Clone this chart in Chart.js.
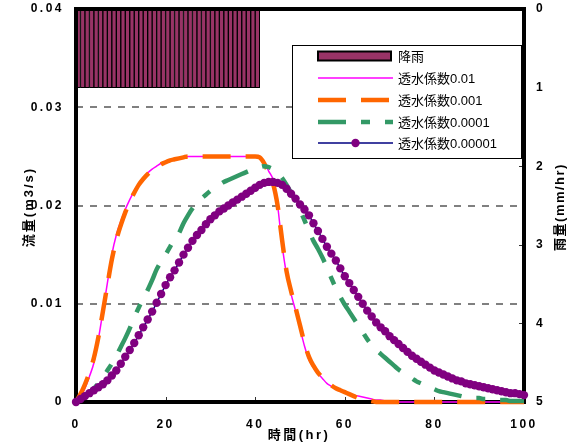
<!DOCTYPE html>
<html><head><meta charset="utf-8">
<script src="https://cdn.jsdelivr.net/npm/chart.js@4"></script>
<style>html,body{margin:0;padding:0;background:#fff}#wrap{width:575px;height:444px;position:relative}</style>
</head><body><div id="wrap"><canvas id="c"></canvas></div>
<script>
const hours = [0,1,2,3,4,5,6,7,8,9,10,11,12,13,14,15,16,17,18,19,20,21,22,23,24,25,26,27,28,29,30,31,32,33,34,35,36,37,38,39,40,41,42,43,44,45,46,47,48,49,50,51,52,53,54,55,56,57,58,59,60,61,62,63,64,65,66,67,68,69,70,71,72,73,74,75,76,77,78,79,80,81,82,83,84,85,86,87,88,89,90,91,92,93,94,95,96,97,98,99,100];
const rainHours = [0.5,1.5,2.5,3.5,4.5,5.5,6.5,7.5,8.5,9.5,10.5,11.5,12.5,13.5,14.5,15.5,16.5,17.5,18.5,19.5,20.5,21.5,22.5,23.5,24.5,25.5,26.5,27.5,28.5,29.5,30.5,31.5,32.5,33.5,34.5,35.5,36.5,37.5,38.5,39.5,40.5];
const rainfall = [1,1,1,1,1,1,1,1,1,1,1,1,1,1,1,1,1,1,1,1,1,1,1,1,1,1,1,1,1,1,1,1,1,1,1,1,1,1,1,1,1];
const flow_k001 = [0,0.0005,0.0014,0.0026,0.0040,0.0064,0.0092,0.0121,0.0150,0.0170,0.0184,
 0.0196,0.0206,0.0215,0.0222,0.0228,0.0233,0.0237,0.0240,0.0243,0.0245,
 0.0246,0.0247,0.0248,0.0249,0.0250,0.0250,0.0250,0.0250,0.0250,0.0250,
 0.0250,0.0250,0.0250,0.0250,0.0250,0.0250,0.0250,0.0250,0.0250,0.0250,
 0.0249,0.0244,0.0235,0.0226,0.0200,0.0160,0.0130,0.0110,0.0093,0.0075,
 0.0057,0.0043,0.0035,0.0029,0.0024,0.0019,0.0016,0.0013,0.0011,0.0009,
 0.0008,0.0007,0.0006,0.0005,0.0004,0.0003,0.0002,0.0002,0.0001,0.0001,
 0,0,0,0,0,0,0,0,0,0,0,0,0,0,0,0,0,0,0,0,0,0,0,0,0,0,0,0,0,0];
const flow_k0001 = [0,0.0008,0.0018,0.0030,0.0045,0.0066,0.0092,0.0119,0.0145,0.0165,0.0180,
 0.0193,0.0204,0.0213,0.0221,0.0227,0.0232,0.0236,0.0239,0.0242,0.0244,
 0.0246,0.0247,0.0248,0.0249,0.0250,0.0250,0.0250,0.0250,0.0250,0.0250,
 0.0250,0.0250,0.0250,0.0250,0.0250,0.0250,0.0250,0.0250,0.0250,0.0250,
 0.0249,0.0243,0.0233,0.0222,0.0200,0.0165,0.0133,0.0113,0.0096,0.0078,
 0.0060,0.0046,0.0037,0.0030,0.0025,0.0021,0.0017,0.0014,0.0012,0.0010,
 0.0008,0.0006,0.0004,0.0003,0.0002,0.0001,0,0,0,0,
 0,0,0,0,0,0,0,0,0,0,0,0,0,0,0,0,0,0,0,0,0,0,0,0,0,0,0,0,0,0];
const flow_k00001 = [0,0.0003,0.0006,0.0010,0.0014,0.0019,0.0025,0.0032,0.0039,0.0047,0.0056,
 0.0065,0.0075,0.0086,0.0096,0.0105,0.0114,0.0124,0.0135,0.0143,0.0150,
 0.0158,0.0166,0.0172,0.0182,0.0190,0.0197,0.0202,0.0207,0.0211,0.0215,
 0.0218,0.0221,0.0224,0.0226,0.0228,0.0230,0.0232,0.0234,0.0236,0.0238,
 0.0239,0.0240,0.0239,0.0237,0.0234,0.0228,0.0221,0.0213,0.0205,0.0195,
 0.0185,0.0174,0.0164,0.0156,0.0147,0.0137,0.0126,0.0116,0.0107,0.0099,
 0.0092,0.0085,0.0078,0.0071,0.0064,0.0058,0.0053,0.0049,0.0045,0.0041,
 0.0037,0.0033,0.0030,0.0027,0.0024,0.0021,0.0019,0.0017,0.0015,0.0013,
 0.0011,0.0010,0.0009,0.0008,0.0007,0.0006,0.0005,0.0005,0.0004,0.0004,
 0.0003,0.0003,0.0003,0.0002,0.0002,0.0002,0.0001,0.0001,0.0001,0.0001];
const flow_k000001 = [0,0.0003,0.0006,0.0009,0.0012,0.0015,0.0018,0.0022,0.0027,0.0032,0.0039,
 0.0046,0.0053,0.0060,0.0068,0.0076,0.0084,0.0092,0.0101,0.0110,0.0119,
 0.0127,0.0134,0.0142,0.0150,0.0157,0.0164,0.0170,0.0175,0.0181,0.0186,
 0.0190,0.0194,0.0197,0.0200,0.0203,0.0206,0.0209,0.0212,0.0215,0.0218,
 0.0221,0.0223,0.0224,0.0224,0.0223,0.0221,0.0217,0.0212,0.0207,0.0201,
 0.0196,0.0190,0.0182,0.0174,0.0166,0.0158,0.0151,0.0144,0.0136,0.0128,
 0.0121,0.0114,0.0107,0.0100,0.0093,0.0087,0.0081,0.0076,0.0072,0.0067,
 0.0063,0.0059,0.0055,0.0051,0.0047,0.0044,0.0041,0.0038,0.0035,0.0032,
 0.0030,0.0028,0.0026,0.0024,0.0022,0.0021,0.0019,0.0018,0.0017,0.0016,
 0.0015,0.0014,0.0013,0.0012,0.0011,0.0010,0.0009,0.0009,0.0008,0.0007];
const seriesLabels = ['降雨','透水係数0.01','透水係数0.001','透水係数0.0001','透水係数0.00001'];
const xTitle = '時間(hr)';
const yTitle = '流量(m3/s)';
const y2Title = '雨量(mm/hr)';

const FONT = "'Liberation Sans', Arial, 'Noto Sans CJK JP', sans-serif";
const pts = (xs, ys) => xs.map((x, i) => ({x: x, y: ys[i]}));

function drawFrame(chart, sides) {
  const a = chart.chartArea, ctx = chart.ctx;
  ctx.save();
  ctx.strokeStyle = '#000';
  ctx.lineWidth = 4;
  ctx.beginPath();
  if (sides.includes('l')) { ctx.moveTo(a.left, a.top - 2); ctx.lineTo(a.left, a.bottom + 2); }
  if (sides.includes('t')) { ctx.moveTo(a.left - 2, a.top); ctx.lineTo(a.right + 2, a.top); }
  if (sides.includes('r')) { ctx.moveTo(a.right, a.top - 2); ctx.lineTo(a.right, a.bottom + 2); }
  if (sides.includes('b')) { ctx.moveTo(a.left - 2, a.bottom); ctx.lineTo(a.right + 2, a.bottom); }
  ctx.stroke();
  ctx.restore();
}

const spacingPlugin = {
  id: 'tickSpacing',
  beforeLayout(chart) { chart.ctx.letterSpacing = '2.5px'; },
  beforeDraw(chart) { chart.ctx.letterSpacing = '2.5px'; }
};

const framePlugin = {
  id: 'frame',
  beforeDatasetsDraw(chart) {
    const ctx = chart.ctx, a = chart.chartArea;
    drawFrame(chart, 'ltrb');
    ctx.save();
    ctx.strokeStyle = '#333';
    ctx.lineWidth = 1;
    const xs = chart.scales.x;
    [20, 40, 60, 80].forEach(v => {
      const px = Math.round(xs.getPixelForValue(v)) + 0.5;
      ctx.beginPath(); ctx.moveTo(px, a.bottom - 2); ctx.lineTo(px, a.bottom - 5); ctx.stroke();
    });
    const y2 = chart.scales.y2;
    [1, 2, 3, 4].forEach(v => {
      const py = Math.round(y2.getPixelForValue(v)) + 0.5;
      ctx.beginPath(); ctx.moveTo(a.right - 2, py); ctx.lineTo(a.right - 5, py); ctx.stroke();
    });
    ctx.restore();
  },
  afterDatasetDraw(chart, args) {
    if (args.index === 0) drawFrame(chart, 'lt');
  }
};

const titlePlugin = {
  id: 'titles',
  afterDraw(chart) {
    const ctx = chart.ctx;
    ctx.save();
    ctx.fillStyle = '#000';
    ctx.font = "bold 13px " + FONT;
    ctx.textAlign = 'center';
    ctx.textBaseline = 'middle';
    ctx.letterSpacing = '2.5px';
    ctx.fillText(xTitle, 299, 435);
    ctx.letterSpacing = '2px';
    ctx.save(); ctx.translate(29, 207); ctx.rotate(-Math.PI / 2); ctx.fillText(yTitle, 0, 0); ctx.restore();
    ctx.letterSpacing = '1.5px';
    ctx.save(); ctx.translate(560, 207); ctx.rotate(-Math.PI / 2); ctx.fillText(y2Title, 0, 0); ctx.restore();
    ctx.restore();
  }
};

const legendPlugin = {
  id: 'boxLegend',
  afterDraw(chart) {
    const ctx = chart.ctx;
    const bx = 292.5, by = 45.5, bw = 229, bh = 113;
    ctx.save();
    ctx.letterSpacing = '0px';
    ctx.fillStyle = '#fff';
    ctx.fillRect(bx, by, bw, bh);
    ctx.strokeStyle = '#000';
    ctx.lineWidth = 1;
    ctx.strokeRect(bx, by, bw, bh);
    const x0 = 318, x1 = 393, tx = 398;
    const rowY = [56, 78, 100, 122, 143];
    const ds = chart.data.datasets;
    ds.forEach((d, i) => {
      const y = rowY[i];
      if (d.type === 'bar') {
        ctx.fillStyle = d.backgroundColor;
        ctx.fillRect(x0, y - 4.5, x1 - x0 - 2, 9);
        ctx.strokeStyle = '#000';
        ctx.lineWidth = 2;
        ctx.strokeRect(x0, y - 4.5, x1 - x0 - 2, 9);
      } else {
        ctx.save();
        ctx.beginPath();
        ctx.rect(x0, y - 10, x1 - x0, 20);
        ctx.clip();
        ctx.strokeStyle = d.borderColor;
        ctx.lineWidth = d.borderWidth;
        ctx.setLineDash(d.borderDash || []);
        ctx.beginPath(); ctx.moveTo(x0, y); ctx.lineTo(x1, y); ctx.stroke();
        ctx.restore();
        if (d.pointRadius > 0) {
          ctx.fillStyle = d.pointBackgroundColor;
          ctx.beginPath(); ctx.arc((x0 + x1) / 2, y, d.pointRadius, 0, Math.PI * 2); ctx.fill();
        }
      }
      ctx.fillStyle = '#000';
      ctx.font = "13px " + FONT;
      ctx.textAlign = 'left';
      ctx.textBaseline = 'middle';
      ctx.fillText(d.label, tx, y + 1);
    });
    ctx.restore();
  }
};

function fitY(w) {
  return function (s) { s.width = w; s.paddingTop = 0; s.paddingBottom = 0; };
}

new Chart(document.getElementById('c'), {
  type: 'line',
  data: {
    datasets: [
      { type: 'bar', label: seriesLabels[0], data: pts(rainHours, rainfall), yAxisID: 'y2',
        backgroundColor: '#993366', borderColor: '#000', borderWidth: 1, borderSkipped: false,
        barPercentage: 1, categoryPercentage: 1, order: 5 },
      { label: seriesLabels[1], data: pts(hours, flow_k001), yAxisID: 'y',
        borderColor: '#FF00FF', borderWidth: 1.5, pointRadius: 0, cubicInterpolationMode: 'monotone', order: 4, clip: false },
      { label: seriesLabels[2], data: pts(hours, flow_k0001), yAxisID: 'y',
        borderColor: '#FF6600', borderWidth: 4.5, borderDash: [28, 15], pointRadius: 0, cubicInterpolationMode: 'monotone', order: 3, clip: false },
      { label: seriesLabels[3], data: pts(hours, flow_k00001), yAxisID: 'y',
        borderColor: '#339966', borderWidth: 4.5, borderDash: [28, 15, 9, 15], pointRadius: 0, cubicInterpolationMode: 'monotone', order: 2, clip: false },
      { label: seriesLabels[4], data: pts(hours, flow_k000001), yAxisID: 'y',
        borderColor: '#000080', borderWidth: 1.5, pointRadius: 4.2, pointBackgroundColor: '#800080', pointBorderColor: '#800080', pointBorderWidth: 0,
        cubicInterpolationMode: 'monotone', order: 1, clip: false }
    ]
  },
  options: {
    responsive: true, maintainAspectRatio: false, animation: false,
    layout: { padding: { top: 9, left: 0, right: 0, bottom: 0 } },
    plugins: { legend: { display: false }, tooltip: { enabled: false } },
    scales: {
      x: { type: 'linear', min: 0, max: 100, offset: false,
        ticks: { stepSize: 20, padding: 15, maxRotation: 0, color: '#000', font: { family: FONT, size: 12, weight: 'bold' } },
        grid: { display: false, drawTicks: false }, border: { display: false },
        afterFit(s) { s.height = 42; s.paddingLeft = 0; s.paddingRight = 0; } },
      y: { position: 'left', min: 0, max: 0.04,
        ticks: { stepSize: 0.01, padding: 12, color: '#000', font: { family: FONT, size: 12, weight: 'bold' },
          callback: v => v === 0 ? '0' : v.toFixed(2) },
        grid: { drawTicks: false, lineWidth: 2,
          color: c => (c.tick && c.tick.value > 0.001 && c.tick.value < 0.039) ? '#808080' : 'rgba(0,0,0,0)' },
        border: { display: false, dash: [7, 7] },
        afterFit: fitY(76) },
      y2: { position: 'right', reverse: true, min: 0, max: 5,
        ticks: { stepSize: 1, padding: 12, color: '#000', font: { family: FONT, size: 12, weight: 'bold' } },
        grid: { display: false, drawTicks: false }, border: { display: false },
        afterFit: fitY(51) }
    }
  },
  plugins: [spacingPlugin, framePlugin, legendPlugin, titlePlugin]
});
</script>
</body></html>
